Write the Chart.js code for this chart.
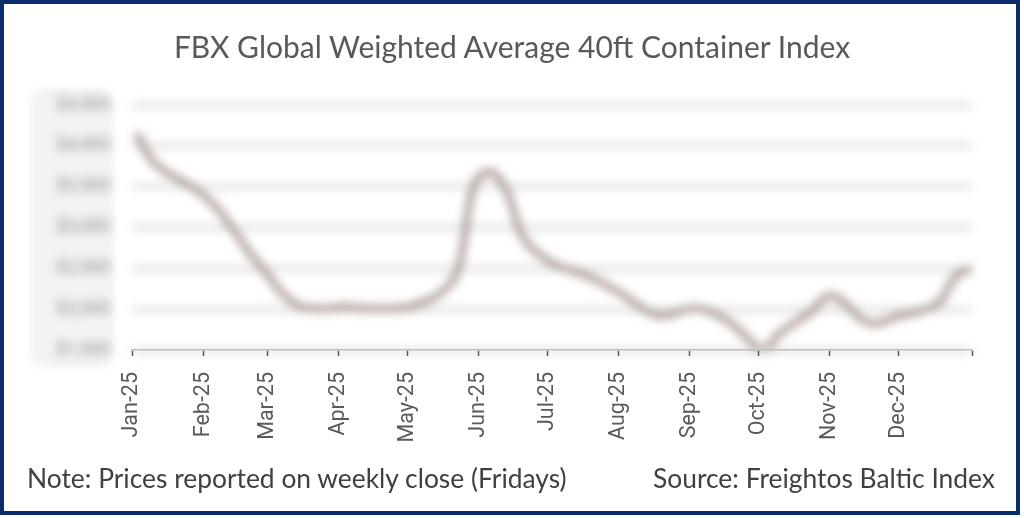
<!DOCTYPE html>
<html>
<head>
<meta charset="utf-8">
<script src="https://cdn.jsdelivr.net/npm/chart.js@4.4.1/dist/chart.umd.min.js"></script>
<style>
  html, body { margin: 0; padding: 0; background: #fff; }
  #frame {
    position: relative; width: 1024px; height: 518px; overflow: hidden;
    background: #fff; font-family: Lato, "Open Sans", sans-serif; color: #595959;
  }
  #border {
    position: absolute; left: 0; top: 0; width: 1012px; height: 507px;
    border: 4px solid #0b2d6c; pointer-events: none;
  }
  #ybg {
    position: absolute; left: 30px; top: 88px; width: 84px; height: 280px;
    background: #f3f3f3; border-radius: 16px; filter: blur(3px);
  }
  canvas { position: absolute; left: 0; top: 0; }
  #soft { filter: blur(4.6px); }
  .txt { position: absolute; white-space: nowrap; }
  #title { top: 28px; left: 0; width: 1024px; text-align: center; font-size: 30px; }
  #note { left: 27px; top: 462px; font-size: 26.4px; color: #404040; }
  #source { right: 29px; top: 462px; font-size: 26.4px; color: #404040; }
</style>
</head>
<body>
<div id="frame">
  <div id="ybg"></div>
  <canvas id="soft" width="1024" height="518"></canvas>
  <canvas id="sharp" width="1024" height="518"></canvas>
  <div class="txt" id="title">FBX Global Weighted Average 40ft Container Index</div>
  <div class="txt" id="note">Note: Prices reported on weekly close (Fridays)</div>
  <div class="txt" id="source">Source: Freightos Baltic Index</div>
  <div id="border"></div>
</div>
<script>
// weekly Friday closes
const weekDates = [
  '2025-01-03', '2025-01-10', '2025-01-17', '2025-01-24', '2025-01-31',
  '2025-02-07', '2025-02-14', '2025-02-21', '2025-02-28',
  '2025-03-07', '2025-03-14', '2025-03-21', '2025-03-28',
  '2025-04-04', '2025-04-11', '2025-04-18', '2025-04-25',
  '2025-05-02', '2025-05-09', '2025-05-16', '2025-05-23', '2025-05-30',
  '2025-06-06', '2025-06-13', '2025-06-20', '2025-06-27',
  '2025-07-04', '2025-07-11', '2025-07-18', '2025-07-25',
  '2025-08-01', '2025-08-08', '2025-08-15', '2025-08-22', '2025-08-29',
  '2025-09-05', '2025-09-12', '2025-09-19', '2025-09-26',
  '2025-10-03', '2025-10-10', '2025-10-17', '2025-10-24', '2025-10-31',
  '2025-11-07', '2025-11-14', '2025-11-21', '2025-11-28',
  '2025-12-05', '2025-12-12', '2025-12-19', '2025-12-26', '2026-01-02'
];
const fbxValues = [
  4160, 3810, 3660, 3550, 3420,
  3240, 2980, 2700, 2460,
  2210, 2050, 2010, 2010,
  2030, 2010, 2010, 2010,
  2030, 2100, 2210, 2480, 3520,
  3680, 3460, 2900, 2680,
  2550, 2480, 2410, 2320,
  2210, 2080, 1950, 1920, 1990,
  2010, 1940, 1830, 1650,
  1500, 1700, 1840, 1970, 2160,
  2090, 1890, 1820, 1890,
  1940, 1990, 2090, 2410, 2500
];
const monthStarts = ['2025-01-01', '2025-02-01', '2025-03-01', '2025-04-01', '2025-05-01', '2025-06-01',
                     '2025-07-01', '2025-08-01', '2025-09-01', '2025-10-01', '2025-11-01', '2025-12-01'];
const monthLabels = ['Jan-25', 'Feb-25', 'Mar-25', 'Apr-25', 'May-25', 'Jun-25',
                     'Jul-25', 'Aug-25', 'Sep-25', 'Oct-25', 'Nov-25', 'Dec-25'];
const axisEnd = '2026-01-02';
const yTicks = [1500, 2000, 2500, 3000, 3500, 4000, 4500];

// days since 1 Jan 2025
const DAY = 86400000;
const base = Date.UTC(2025, 0, 1);
function dayOf(s) {
    const p = s.split('-').map(Number);
    return (Date.UTC(p[0], p[1] - 1, p[2]) - base) / DAY;
}
const points = weekDates.map((d, i) => ({ x: dayOf(d), y: fbxValues[i] }));
const monthDays = monthStarts.map(dayOf);
const endDay = dayOf(axisEnd);

// same layout twice: one canvas gets blurred (grid, $ labels, line), the other stays sharp (x axis)
function makeChart(id, soft) {
    const clear = 'rgba(0,0,0,0)';
    return new Chart(document.getElementById(id), {
        type: 'line',
        data: {
            datasets: [{
                data: points,
                borderColor: soft ? '#a99691' : clear,
                borderWidth: 6.5,
                pointRadius: 0,
                tension: 0.4,
                fill: false
            }]
        },
        options: {
            responsive: false,
            animation: false,
            layout: { padding: { left: 32, right: 52, top: 105, bottom: 70 } },
            plugins: { legend: { display: false }, tooltip: { enabled: false } },
            scales: {
                x: {
                    type: 'linear',
                    min: 0,
                    max: endDay,
                    afterBuildTicks: s => {
                        s.ticks = monthDays.map(v => ({ value: v })).concat([{ value: endDay }]);
                    },
                    afterFit: s => { s.height = 98; },
                    grid: {
                        display: true,
                        drawOnChartArea: false,
                        drawTicks: true,
                        tickLength: 6,
                        tickWidth: 1.5,
                        tickColor: soft ? clear : '#595959'
                    },
                    border: { display: true, color: soft ? clear : '#bfbfbf', width: 1.5 },
                    ticks: {
                        autoSkip: false,
                        minRotation: 90,
                        maxRotation: 90,
                        padding: 16,
                        color: soft ? clear : '#595959',
                        font: { family: 'Roboto', size: 21.5 },
                        callback: v => {
                            const k = monthDays.indexOf(v);
                            return k >= 0 ? monthLabels[k] : '';
                        }
                    }
                },
                y: {
                    min: yTicks[0],
                    max: yTicks[yTicks.length - 1],
                    afterBuildTicks: s => { s.ticks = yTicks.map(v => ({ value: v })); },
                    afterFit: s => { s.width = 100; },
                    grid: {
                        drawTicks: false,
                        color: soft ? '#dddddd' : clear,
                        lineWidth: 5
                    },
                    border: { display: false },
                    ticks: {
                        padding: 22,
                        color: soft ? '#8a8a8a' : clear,
                        font: { family: 'Roboto', size: 18 },
                        callback: v => '$' + v.toLocaleString('en-US')
                    }
                }
            }
        }
    });
}

makeChart('soft', true);
makeChart('sharp', false);
</script>
</body>
</html>
